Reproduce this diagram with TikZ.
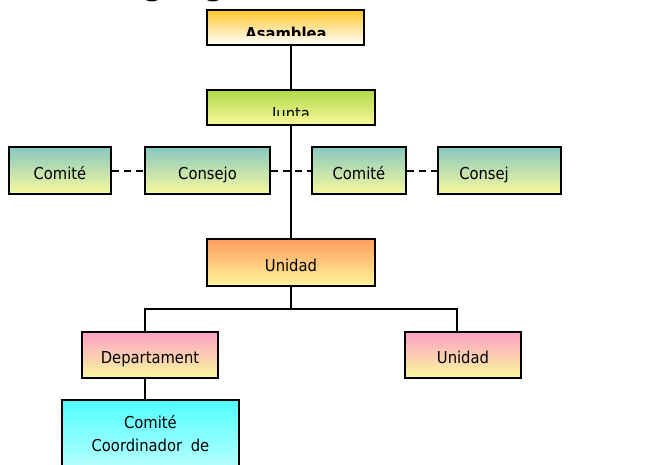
\documentclass[tikz,border=0pt]{standalone}
\usepackage{fontspec}
\setmainfont{DejaVu Sans Condensed}
\newfontfamily\headfont{Liberation Serif}

\definecolor{asamtop}{HTML}{FFC830}
\definecolor{asambot}{HTML}{FFFFFF}
\definecolor{juntatop}{HTML}{B0D848}
\definecolor{softyellow}{HTML}{F8F99C}
\definecolor{comtop}{HTML}{88C8C0}
\definecolor{unitop}{HTML}{FF9E5E}
\definecolor{unibot}{HTML}{FFF59A}
\definecolor{deptop}{HTML}{FFA0C8}
\definecolor{coortop}{HTML}{50FFFF}
\definecolor{coorbot}{HTML}{E8FFFF}

\tikzset{
  box/.style={draw, line width=1.5pt, inner sep=0pt,
    text height=12.8pt, text depth=0pt,
    font=\fontsize{12.3}{14}\selectfont},
  link/.style={line width=1.5pt},
  dlink/.style={line width=1.5pt, dash pattern=on 5.25pt off 3.75pt},
  boxtext/.style={inner sep=0pt, anchor=base, font=\fontsize{12.3}{14}\selectfont}
}

\begin{document}
\begin{tikzpicture}[x=0.75pt,y=-0.75pt]
\clip (0,0) rectangle (666,464);

\node [anchor=base west, inner sep=0pt,
       font=\headfont\bfseries\fontsize{25}{28}\selectfont] (titulo) at (103,-5.5)
  {Organigrama};

\node [box, top color=asamtop, bottom color=asambot,
       minimum width=117.75pt, minimum height=26.25pt] (asamblea) at (285.5,27.5) {};
\node [box, top color=juntatop, bottom color=softyellow,
       minimum width=126pt, minimum height=26.25pt] (junta) at (291,107.5) {};
\begin{scope}
  \clip (asamblea.north west) rectangle (364,35);
  \node [boxtext, font=\fontsize{12.3}{14}\selectfont\bfseries] (asambleaText) at (286,39) {Asamblea};
\end{scope}
\begin{scope}
  \clip (junta.north west) rectangle (375,115);
  \node [boxtext] (juntaText) at (291,119) {Junta};
\end{scope}

\node [box, top color=comtop, bottom color=softyellow,
       minimum width=76.5pt, minimum height=35.25pt] (comiteA) at (60,170.5) {Comité};
\node [box, top color=comtop, bottom color=softyellow,
       minimum width=93.75pt, minimum height=35.25pt] (consejo) at (207.5,170.5) {Consejo};
\node [box, top color=comtop, bottom color=softyellow,
       minimum width=70.5pt, minimum height=35.25pt] (comiteB) at (359,170.5) {Comité};
\node [box, top color=comtop, bottom color=softyellow, anchor=west,
       minimum width=92.25pt, minimum height=35.25pt] (consej) at (437,170.5) {};
\node [boxtext, anchor=base west] (consejText) at (459,179) {Consej};

\node [box, top color=unitop, bottom color=unibot,
       minimum width=126pt, minimum height=35.25pt] (unidad) at (291,262.5) {Unidad};

\node [box, top color=deptop, bottom color=softyellow,
       minimum width=102pt, minimum height=34.5pt] (depto) at (150,355) {Departament};
\node [box, top color=deptop, bottom color=softyellow,
       minimum width=87pt, minimum height=34.5pt] (unidadB) at (463,355) {Unidad};

\node [box, top color=coortop, bottom color=coorbot, anchor=north,
       minimum width=132.75pt, minimum height=75pt] (coord) at (150.5,399) {};
\node [boxtext] (coordA) at (150.5,428) {Comité};
\node [boxtext] (coordB) at (150.5,451) {Coordinador\hspace{0.25em} de};

\draw [link] (junta.north -| 291,0) -- (291,0 |- asamblea.south);
\draw [link] (junta.south) -- (unidad.north);
\draw [dlink] (comiteA.east) -- (consejo.west);
\draw [dlink] (consejo.east) -- (comiteB.west);
\draw [dlink] (comiteB.east) -- (consej.west);

\draw [link] (unidad.south) -- ++(0,22) coordinate (bus);
\draw [link] ([xshift=-3.75pt]depto.north) |- (bus) -| ([xshift=-4.5pt]unidadB.north);
\draw [link] ([xshift=-3.75pt]depto.south) -- ([xshift=-3.75pt]depto.south |- coord.north);
\end{tikzpicture}
\end{document}
